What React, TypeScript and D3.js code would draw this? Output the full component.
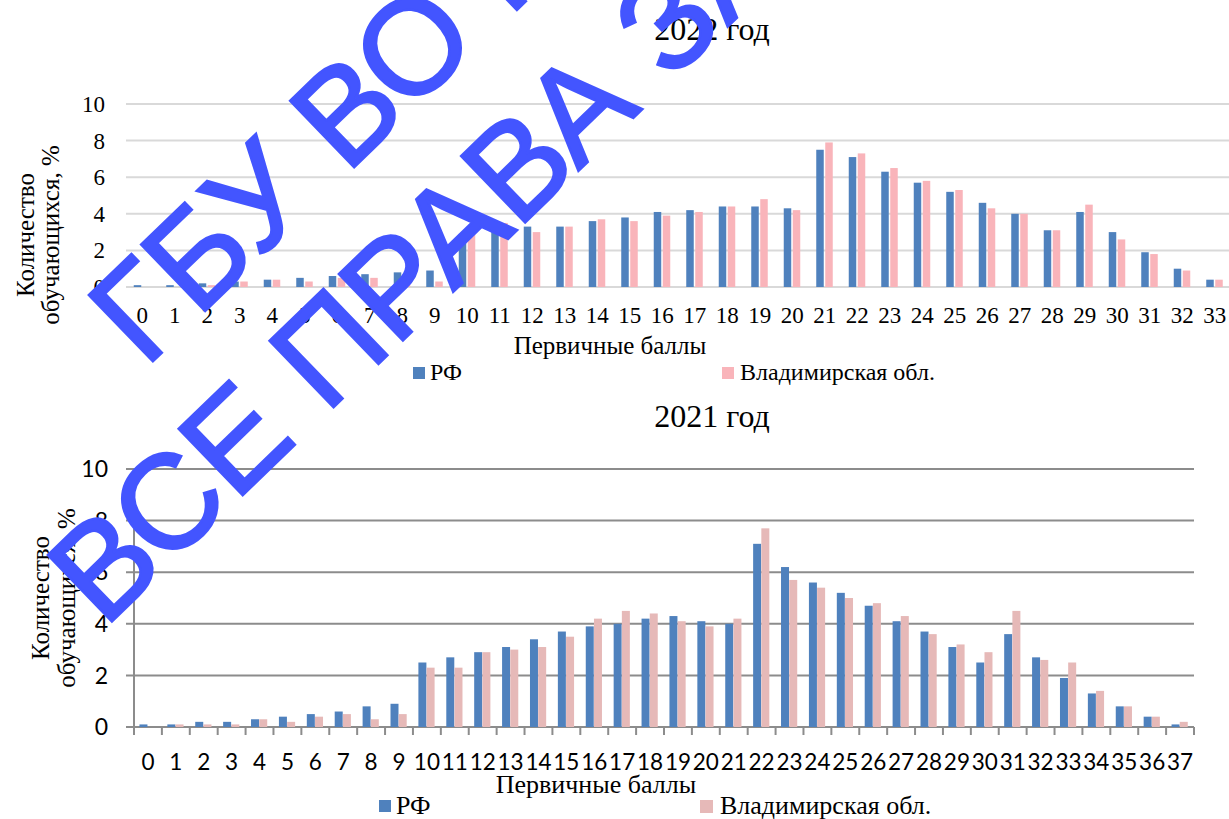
import React from "react";
import * as d3 from "d3";

const scores22 = d3.range(0, 34).map(String);
const rf22 = [0.1,0.1,0.2,0.3,0.4,0.5,0.6,0.7,0.8,0.9,2.9,3.3,3.3,3.3,3.6,3.8,4.1,4.2,4.4,4.4,4.3,7.5,7.1,6.3,5.7,5.2,4.6,4.0,3.1,4.1,3.0,1.9,1.0,0.4];
const vl22 = [0,0,0.1,0.3,0.4,0.3,0.5,0.5,0.5,0.3,3.3,3.5,3.0,3.3,3.7,3.6,3.9,4.1,4.4,4.8,4.2,7.9,7.3,6.5,5.8,5.3,4.3,4.0,3.1,4.5,2.6,1.8,0.9,0.4];

const scores21 = d3.range(0, 38).map(String);
const rf21 = [0.1,0.1,0.2,0.2,0.3,0.4,0.5,0.6,0.8,0.9,2.5,2.7,2.9,3.1,3.4,3.7,3.9,4.0,4.2,4.3,4.1,4.0,7.1,6.2,5.6,5.2,4.7,4.1,3.7,3.1,2.5,3.6,2.7,1.9,1.3,0.8,0.4,0.1];
const vl21 = [0,0.1,0.1,0.1,0.3,0.2,0.4,0.5,0.3,0.5,2.3,2.3,2.9,3.0,3.1,3.5,4.2,4.5,4.4,4.1,3.9,4.2,7.7,5.7,5.4,5.0,4.8,4.3,3.6,3.2,2.9,4.5,2.6,2.5,1.4,0.8,0.4,0.2];

const yTicks = [0, 2, 4, 6, 8, 10];
const seriesNames = ["РФ", "Владимирская обл."];
const titles = ["2022 год", "2021 год"];
const yTitle = ["Количество", "обучающихся, %"];
const xTitle = "Первичные баллы";
const watermark = ["ГБУ ВО РЦОКИО", "ВСЕ ПРАВА ЗАЩИЩЕНЫ"];

const SERIF = "'Liberation Serif', 'Times New Roman', serif";
const SANS = "Lato, 'Liberation Sans', sans-serif";

export default function App() {
  // Chart 1 (2022)
  const x1 = d3.scaleBand().domain(scores22).range([126, 1231]).paddingInner(0).paddingOuter(0);
  const y1 = d3.scaleLinear().domain([0, 10]).range([287, 104]);
  // Chart 2 (2021)
  const x2 = d3.scaleBand().domain(scores21).range([134, 1194]).paddingInner(0).paddingOuter(0);
  const y2 = d3.scaleLinear().domain([0, 10]).range([727, 469]);

  const blue = "#4f81bd";
  const pink1 = "#f9b4ba";
  const pink2 = "#e6b9b8";
  const wm = "#4355ff";

  return (
    <svg width={1229} height={819} style={{ position: "absolute", left: 0, top: 0, background: "#fff" }}>
      <rect x={0} y={0} width={1229} height={819} fill="#fff" />
      {/* ===== Chart 1 ===== */}
      <text x={712} y={40} textAnchor="middle" fontFamily={SERIF} fontSize={32}>{titles[0]}</text>
      {yTicks.map((t) => (
        <line key={"g1" + t} x1={126} x2={1229} y1={y1(t)} y2={y1(t)} stroke="#d9d9d9" strokeWidth={2} />
      ))}
      {yTicks.map((t) => (
        <text key={"yt1" + t} x={105} y={y1(t)} dy="0.35em" textAnchor="end" fontFamily={SERIF} fontSize={23}>{t}</text>
      ))}
      {scores22.map((s, i) => {
        const c = (x1(s) as number) + x1.bandwidth() / 2;
        return (
          <g key={"b1" + s}>
            <rect x={c - 8.5} width={7.5} y={y1(rf22[i])} height={y1(0) - y1(rf22[i])} fill={blue} />
            <rect x={c + 0.5} width={7.5} y={y1(vl22[i])} height={y1(0) - y1(vl22[i])} fill={pink1} />
            <text x={c} y={323} textAnchor="middle" fontFamily={SERIF} fontSize={23}>{s}</text>
          </g>
        );
      })}
      <text transform="translate(34,235) rotate(-90)" textAnchor="middle" fontFamily={SERIF} fontSize={25}>{yTitle[0]}</text>
      <text transform="translate(59,235) rotate(-90)" textAnchor="middle" fontFamily={SERIF} fontSize={25}>{yTitle[1]}</text>
      <text x={610} y={354} textAnchor="middle" fontFamily={SERIF} fontSize={25}>{xTitle}</text>
      <rect x={413} y={367} width={12} height={12} fill={blue} />
      <text x={430} y={380} fontFamily={SERIF} fontSize={24}>{seriesNames[0]}</text>
      <rect x={722} y={367} width={12} height={12} fill={pink1} />
      <text x={740} y={380} fontFamily={SERIF} fontSize={24}>{seriesNames[1]}</text>

      {/* ===== Chart 2 ===== */}
      <text x={712} y={427} textAnchor="middle" fontFamily={SERIF} fontSize={32}>{titles[1]}</text>
      {yTicks.map((t) => (
        <line key={"g2" + t} x1={126} x2={1194} y1={y2(t)} y2={y2(t)} stroke="#8c8c8c" strokeWidth={2} />
      ))}
      {yTicks.map((t) => (
        <text key={"yt2" + t} x={108} y={y2(t)} dy="0.36em" textAnchor="end" fontFamily={SANS} fontSize={23}>{t}</text>
      ))}
      <line x1={134} x2={134} y1={469} y2={735} stroke="#8c8c8c" strokeWidth={2} />
      {scores21.map((s, i) => {
        const left = x2(s) as number;
        const c = left + x2.bandwidth() / 2;
        return (
          <g key={"b2" + s}>
            <line x1={left + x2.bandwidth()} x2={left + x2.bandwidth()} y1={727} y2={735} stroke="#8c8c8c" strokeWidth={2} />
            <rect x={c - 8.5} width={8} y={y2(rf21[i])} height={y2(0) - y2(rf21[i])} fill={blue} />
            <rect x={c - 0.3} width={8} y={y2(vl21[i])} height={y2(0) - y2(vl21[i])} fill={pink2} />
            <text x={c} y={770} textAnchor="middle" fontFamily={SANS} fontSize={22.5}>{s}</text>
          </g>
        );
      })}
      <text transform="translate(49,598) rotate(-90)" textAnchor="middle" fontFamily={SERIF} fontSize={25}>{yTitle[0]}</text>
      <text transform="translate(75,598) rotate(-90)" textAnchor="middle" fontFamily={SERIF} fontSize={25}>{yTitle[1]}</text>
      <text x={596} y={793} textAnchor="middle" fontFamily={SERIF} fontSize={26}>{xTitle}</text>
      <rect x={379} y={800} width={12} height={12} fill={blue} />
      <text x={396} y={814} fontFamily={SERIF} fontSize={26}>{seriesNames[0]}</text>
      <rect x={700} y={800} width={13} height={13} fill={pink2} />
      <text x={720} y={814} fontFamily={SERIF} fontSize={26}>{seriesNames[1]}</text>

      {/* ===== Watermark ===== */}
      <g fill={wm} stroke={wm} strokeWidth={2.5} strokeLinejoin="miter" fontFamily="'Liberation Sans', Arial, sans-serif" fontSize={134}>
        <text transform="translate(145,369) rotate(-44)">{watermark[0]}</text>
        <text transform="translate(104,629) rotate(-44)">{watermark[1]}</text>
      </g>
    </svg>
  );
}
